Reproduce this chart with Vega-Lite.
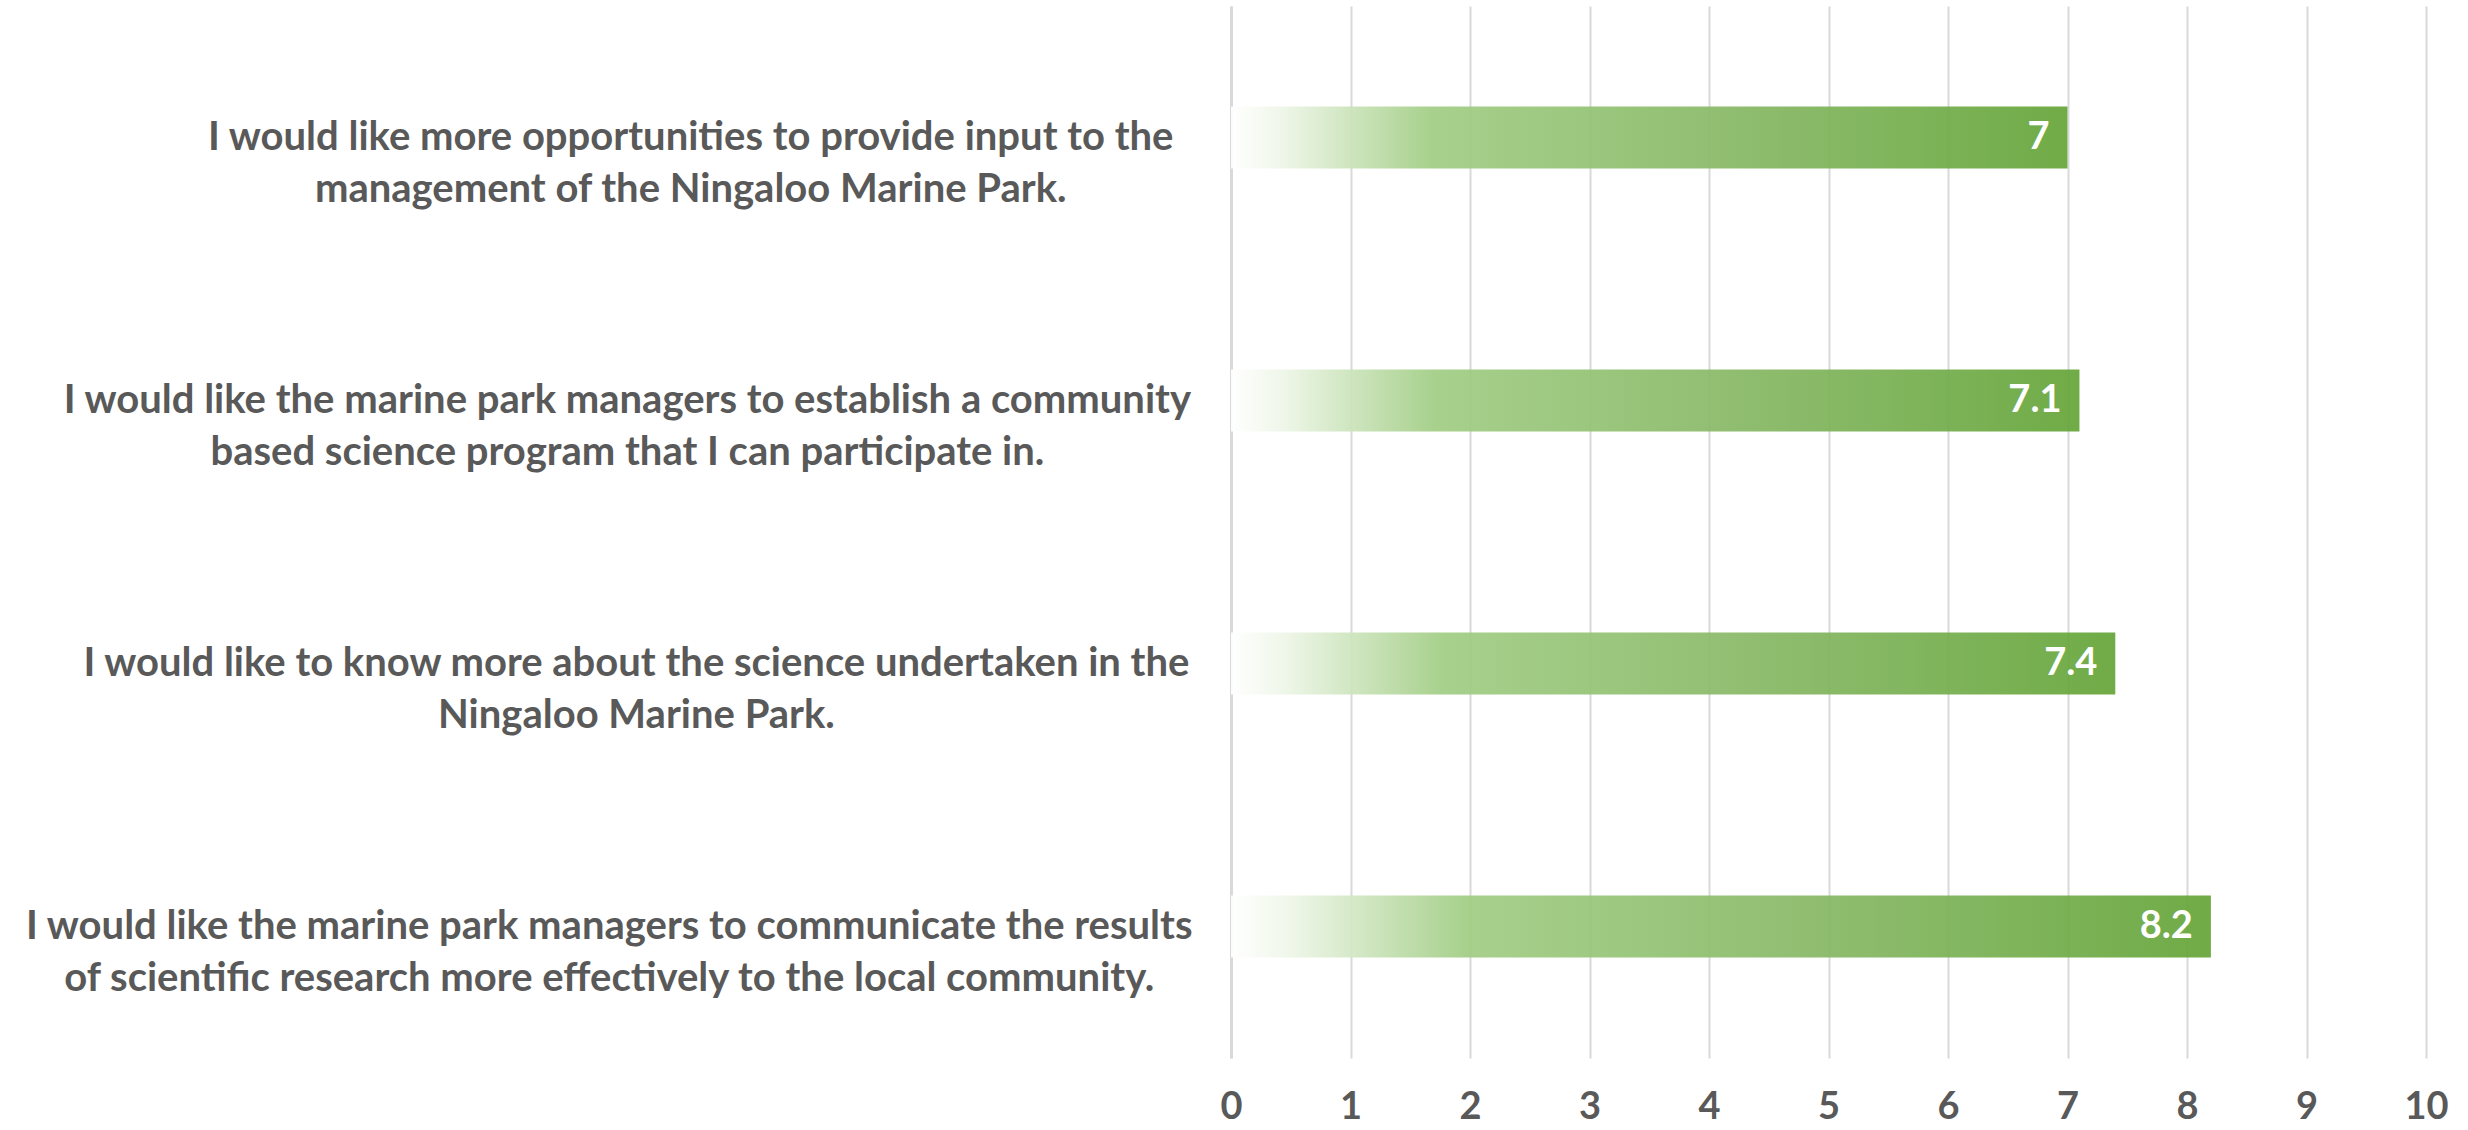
{
  "$schema": "https://vega.github.io/schema/vega-lite/v6.json",
  "width": 1195,
  "height": 1052,
  "autosize": "none",
  "padding": {"left": 1231, "top": 6, "right": 42, "bottom": 72},
  "background": "white",
  "config": {"view": {"stroke": null}, "font": "Lato"},
  "data": {"values": [
    {"statement": "I would like more opportunities to provide input to the|management of the Ningaloo Marine Park.", "score": 7},
    {"statement": "I would like the marine park managers to establish a community|based science program that I can participate in.", "score": 7.1},
    {"statement": "I would like to know more about the science undertaken in the|Ningaloo Marine Park.", "score": 7.4},
    {"statement": "I would like the marine park managers to communicate the results|of scientific research more effectively to the local community.", "score": 8.2}
  ]},
  "encoding": {
    "y": {
      "field": "statement", "type": "nominal", "sort": null,
      "scale": {"paddingInner": 0.764, "paddingOuter": 0.382},
      "axis": {
        "title": null,
        "ticks": false,
        "domain": true,
        "domainColor": "#d9d9d9",
        "domainWidth": 3,
        "labelExpr": "split(datum.value, '|')",
        "labelAlign": "center",
        "labelPadding": {"expr": "43 + 9.05*max(length(split(datum.value,'|')[0]), length(split(datum.value,'|')[1]))"},
        "labelFont": "Lato",
        "labelFontSize": 40,
        "labelFontWeight": "bold",
        "labelColor": "#595959",
        "labelLineHeight": 52,
        "labelLimit": 3000
      }
    },
    "x": {
      "field": "score", "type": "quantitative",
      "scale": {"domain": [0, 10], "nice": false},
      "axis": {
        "title": null,
        "values": [0, 1, 2, 3, 4, 5, 6, 7, 8, 9, 10],
        "domain": false,
        "ticks": false,
        "grid": true,
        "gridColor": "#d9d9d9",
        "gridWidth": 2,
        "labelFont": "Lato",
        "labelFontSize": 38,
        "labelFontWeight": "bold",
        "labelColor": "#595959",
        "labelPadding": 30,
        "labelFlush": false
      }
    }
  },
  "layer": [
    {
      "mark": {
        "type": "bar",
        "fillOpacity": 0.93,
        "color": {
          "gradient": "linear",
          "x1": 0, "y1": 0, "x2": 1, "y2": 0,
          "stops": [
            {"offset": 0, "color": "#ffffff"},
            {"offset": 0.06, "color": "#eef6e8"},
            {"offset": 0.24, "color": "#a1cd84"},
            {"offset": 0.6, "color": "#87b865"},
            {"offset": 1, "color": "#65a539"}
          ]
        }
      }
    },
    {
      "mark": {"type": "text", "align": "right", "baseline": "middle", "dx": -18, "font": "Lato", "fontSize": 38, "fontWeight": "bold", "color": "white"},
      "encoding": {"text": {"field": "score", "type": "quantitative"}}
    }
  ]
}
